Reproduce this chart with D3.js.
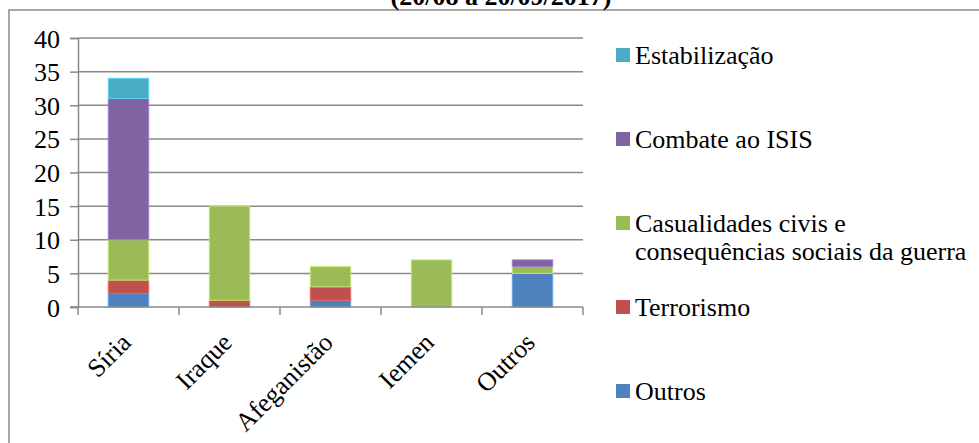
<!DOCTYPE html>
<html>
<head>
<meta charset="utf-8">
<script src="https://cdn.jsdelivr.net/npm/d3@7"></script>
<style>
  body { margin: 0; background: #fff; }
  svg text { font-family: 'Liberation Serif', 'Times New Roman', serif; }
</style>
</head>
<body>
<script>
// categories and series (bottom to top of each stack)
const categories = ["Síria", "Iraque", "Afeganistão", "Iemen", "Outros"];
const outros = [2, 0, 1, 0, 5];
const terrorismo = [2, 1, 2, 0, 0];
const casualidades = [6, 14, 3, 7, 1];
const combate = [21, 0, 0, 0, 1];
const estabilizacao = [3, 0, 0, 0, 0];
const seriesNames = ["Outros", "Terrorismo", "Casualidades civis e consequências sociais da guerra", "Combate ao ISIS", "Estabilização"];
const seriesColors = ["#4F81BD", "#C0504D", "#9BBB59", "#8064A2", "#4BACC6"];
const yTicks = [0, 5, 10, 15, 20, 25, 30, 35, 40];

const width = 979, height = 443;
const marginLeft = 78, plotRight = 583, plotTop = 38, plotBottom = 307;
const serif = "'Liberation Serif', 'Times New Roman', serif";

const table = categories.map((c, i) => ({
    cat: c,
    s0: outros[i], s1: terrorismo[i], s2: casualidades[i], s3: combate[i], s4: estabilizacao[i]
}));
const keys = ["s0", "s1", "s2", "s3", "s4"];
const stacked = d3.stack().keys(keys)(table);

const x = d3.scaleBand()
    .domain(categories)
    .range([marginLeft, plotRight])
    .paddingInner(0.6)
    .paddingOuter(0.3);

const y = d3.scaleLinear()
    .domain([0, 40])
    .range([plotBottom, plotTop]);

const svg = d3.select("body").append("svg")
    .attr("width", width)
    .attr("height", height)
    .style("font-family", serif);

// outer frame (runs off the picture at right and bottom)
svg.append("rect")
    .attr("x", 9).attr("y", 10)
    .attr("width", 1100).attr("height", 600)
    .attr("fill", "none")
    .attr("stroke", "#8a8a8a")
    .attr("stroke-width", 1.5);

// title, cut by the top edge as in the source
svg.append("text")
    .attr("x", 501).attr("y", 5)
    .attr("text-anchor", "middle")
    .attr("font-size", 26)
    .attr("font-weight", "bold")
    .text("(20/08 a 20/09/2017)");

// y axis
const yAxis = svg.append("g")
    .attr("transform", `translate(${marginLeft},0)`)
    .call(d3.axisLeft(y).tickValues(yTicks).tickSize(8).tickPadding(10));
yAxis.select(".domain").attr("stroke", "#8a8a8a").attr("stroke-width", 1.5);
yAxis.selectAll(".tick line").attr("stroke", "#8a8a8a").attr("stroke-width", 1.5);
yAxis.selectAll(".tick text")
    .attr("font-size", 26)
    .attr("fill", "#000")
    .attr("dy", "0.35em");

// gridlines
svg.append("g")
    .selectAll("line")
    .data(yTicks.filter(d => d > 0))
    .join("line")
    .attr("x1", marginLeft).attr("x2", plotRight)
    .attr("y1", d => y(d)).attr("y2", d => y(d))
    .attr("stroke", "#8a8a8a")
    .attr("stroke-width", 1.5);

// bars
svg.append("g")
    .selectAll("g")
    .data(stacked)
    .join("g")
    .attr("fill", (d, i) => seriesColors[i])
    .attr("stroke", (d, i) => d3.color(seriesColors[i]).brighter(0.6))
    .selectAll("rect")
    .data(d => d.filter(s => s[1] - s[0] > 0))
    .join("rect")
    .attr("x", d => x(d.data.cat))
    .attr("width", x.bandwidth())
    .attr("y", d => y(d[1]))
    .attr("height", d => y(d[0]) - y(d[1]));

// x axis line and category-boundary ticks
const boundaries = d3.range(categories.length + 1).map(i => marginLeft + i * x.step());
svg.append("line")
    .attr("x1", marginLeft - 8).attr("x2", plotRight)
    .attr("y1", plotBottom).attr("y2", plotBottom)
    .attr("stroke", "#8a8a8a").attr("stroke-width", 1.5);
svg.append("g")
    .selectAll("line")
    .data(boundaries)
    .join("line")
    .attr("x1", d => d).attr("x2", d => d)
    .attr("y1", plotBottom).attr("y2", plotBottom + 8)
    .attr("stroke", "#8a8a8a").attr("stroke-width", 1.5);

svg.append("g")
    .selectAll("text")
    .data(categories)
    .join("text")
    .attr("transform", d => `translate(${x(d) + x.bandwidth() / 2 + 4},${plotBottom + 37}) rotate(-45)`)
    .attr("text-anchor", "end")
    .attr("font-size", 26)
    .text(d => d);

// legend (top entry = last series)
const legendY = [55, 139, 223, 307, 391];
const legendOrder = [4, 3, 2, 1, 0];
const legend = svg.append("g");
legendOrder.forEach((si, row) => {
    const g = legend.append("g").attr("transform", `translate(616,${legendY[row]})`);
    g.append("rect")
        .attr("x", 0).attr("y", -7)
        .attr("width", 14).attr("height", 14)
        .attr("fill", seriesColors[si]);
    const lines = si === 2 ? ["Casualidades civis e", "consequências sociais da guerra"] : [seriesNames[si]];
    lines.forEach((t, k) => {
        g.append("text")
            .attr("x", 19).attr("y", 9 + k * 28)
            .attr("font-size", 26)
            .text(t);
    });
});
</script>
</body>
</html>
